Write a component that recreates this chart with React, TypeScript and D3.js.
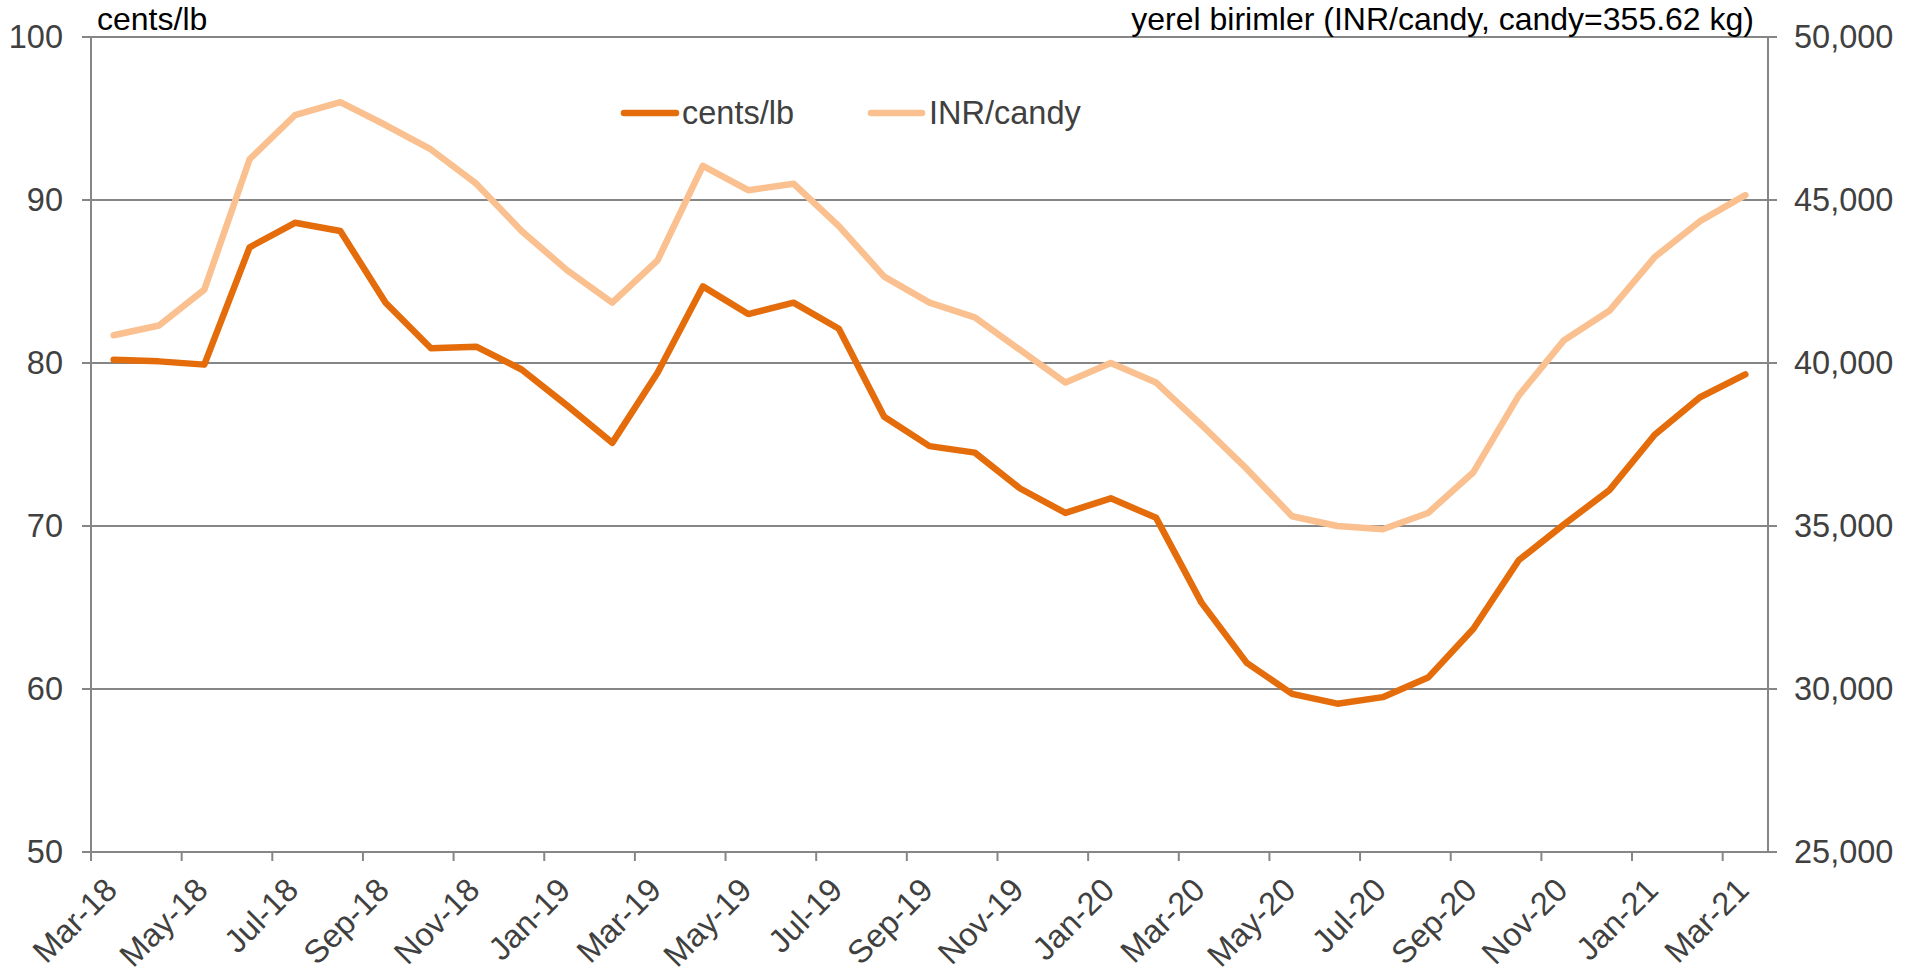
import React from "react";
import * as d3 from "d3";

const months = [
  "Mar-18","Apr-18","May-18","Jun-18","Jul-18","Aug-18","Sep-18","Oct-18","Nov-18","Dec-18",
  "Jan-19","Feb-19","Mar-19","Apr-19","May-19","Jun-19","Jul-19","Aug-19","Sep-19","Oct-19","Nov-19","Dec-19",
  "Jan-20","Feb-20","Mar-20","Apr-20","May-20","Jun-20","Jul-20","Aug-20","Sep-20","Oct-20","Nov-20","Dec-20",
  "Jan-21","Feb-21","Mar-21",
];

const centsPerLb = [
  80.2, 80.1, 79.9, 87.1, 88.6, 88.1, 83.7, 80.9, 81.0, 79.6,
  77.4, 75.1, 79.4, 84.7, 83.0, 83.7, 82.1, 76.7, 74.9, 74.5, 72.3, 70.8,
  71.7, 70.5, 65.3, 61.6, 59.7, 59.1, 59.5, 60.7, 63.7, 67.9, 70.1, 72.2,
  75.6, 77.9, 79.3,
];

const inrPerCandy = [
  40850, 41150, 42250, 46250, 47600, 48000, 47300, 46550, 45500, 44050,
  42850, 41850, 43150, 46050, 45300, 45500, 44200, 42650, 41850, 41400, 40400, 39400,
  40000, 39400, 38100, 36750, 35300, 35000, 34900, 35400, 36650, 39000, 40700, 41600,
  43250, 44350, 45150,
];

const leftTicks = [50, 60, 70, 80, 90, 100];
const rightTicks = [25000, 30000, 35000, 40000, 45000, 50000];
const seriesNames = ["cents/lb", "INR/candy"];
const leftTitle = "cents/lb";
const rightTitle = "yerel birimler (INR/candy, candy=355.62 kg)";

const W = 1908;
const H = 980;
const L = 91;
const R = 1768;
const T = 37;
const B = 852;
const DARK = "#E46C0A";
const LIGHT = "#FAC08F";
const GRID = "#868686";
const TXT = "#404040";
const FONT = "'Liberation Sans', Arial, sans-serif";
const FS = 32.5;
const FT = 32;

export default function App() {
  const x = d3.scaleBand<string>().domain(months).range([L, R]).padding(0);
  const bw = x.bandwidth();
  const yL = d3.scaleLinear().domain([50, 100]).range([B, T]);
  const yR = d3.scaleLinear().domain([25000, 50000]).range([B, T]);
  const cx = (i: number) => (x(months[i]) as number) + bw / 2;

  const lineL = d3.line<number>().x((_, i) => cx(i)).y((d) => yL(d));
  const lineR = d3.line<number>().x((_, i) => cx(i)).y((d) => yR(d));
  const fmt = d3.format(",");

  const tickMonths = months.filter((_, i) => i % 2 === 0);

  return (
    <svg width={W} height={H} style={{ position: "absolute", left: 0, top: 0, background: "#fff" }} fontFamily={FONT}>
      {leftTicks.map((t) => (
        <line key={"g" + t} x1={L - 9} x2={R + 9} y1={yL(t)} y2={yL(t)} stroke={GRID} strokeWidth={2} />
      ))}
      <line x1={L} x2={L} y1={T} y2={B + 9} stroke={GRID} strokeWidth={2} />
      <line x1={R} x2={R} y1={T} y2={B} stroke={GRID} strokeWidth={2} />
      {tickMonths.map((m) => (
        <line key={"t" + m} x1={x(m)} x2={x(m)} y1={B} y2={B + 9} stroke={GRID} strokeWidth={2} />
      ))}
      {leftTicks.map((t) => (
        <text key={"l" + t} x={63} y={yL(t)} dy="0.35em" textAnchor="end" fontSize={FS} fill={TXT}>
          {t}
        </text>
      ))}
      {rightTicks.map((t) => (
        <text key={"r" + t} x={1794} y={yR(t)} dy="0.35em" textAnchor="start" fontSize={FS} fill={TXT}>
          {fmt(t)}
        </text>
      ))}
      {tickMonths.map((m) => (
        <text
          key={"x" + m}
          transform={`translate(${(x(m) as number) + 20},${B + 32}) rotate(-45)`}
          dy="0.35em"
          textAnchor="end"
          fontSize={FS}
          fill={TXT}
        >
          {m}
        </text>
      ))}
      <text x={97} y={30} fontSize={FT} fill="#000">{leftTitle}</text>
      <text x={1754} y={30} fontSize={FT} fill="#000" textAnchor="end">{rightTitle}</text>
      <path d={lineR(inrPerCandy) || ""} fill="none" stroke={LIGHT} strokeWidth={6.5} strokeLinejoin="round" strokeLinecap="round" />
      <path d={lineL(centsPerLb) || ""} fill="none" stroke={DARK} strokeWidth={6.5} strokeLinejoin="round" strokeLinecap="round" />
      <line x1={624} x2={676} y1={113} y2={113} stroke={DARK} strokeWidth={6.5} strokeLinecap="round" />
      <text x={682} y={113} dy="0.35em" fontSize={FS} fill={TXT}>{seriesNames[0]}</text>
      <line x1={871} x2={922} y1={113} y2={113} stroke={LIGHT} strokeWidth={6.5} strokeLinecap="round" />
      <text x={929} y={113} dy="0.35em" fontSize={FS} fill={TXT}>{seriesNames[1]}</text>
    </svg>
  );
}
